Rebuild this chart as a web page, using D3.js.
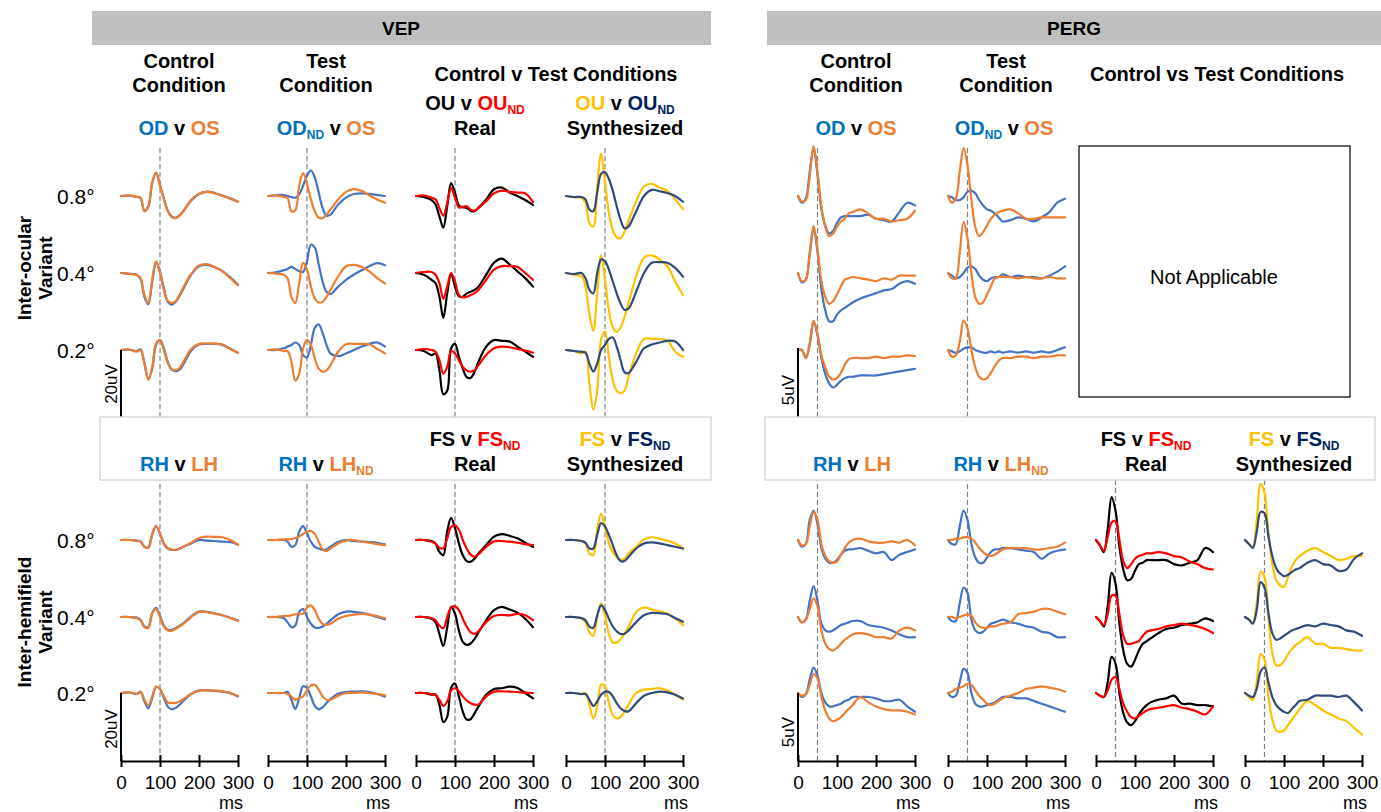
<!DOCTYPE html>
<html>
<head>
<meta charset="utf-8">
<title>VEP and PERG waveforms</title>
<script src="https://d3js.org/d3.v7.min.js"></script>
<style>
  body { margin: 0; background: #fff; }
  svg text { font-family: "Liberation Sans", Arial, sans-serif; }
</style>
</head>
<body>
<svg id="fig" width="1381" height="812"></svg>
<script>
// sample times (ms)
var tVEP  = [0,20,40,50,60,70,80,90,100,110,120,130,140,150,160,180,200,220,240,260,280,300];
var tPERG = [0,10,20,30,40,50,60,70,80,90,100,110,120,130,140,160,180,200,220,240,260,280,300];
var tickMs = [0, 100, 200, 300];
var rowLabels = ["0.8°", "0.4°", "0.2°"];

// ---- VEP, inter-ocular (uV), rows 0.8 / 0.4 / 0.2 ----
var vepOcuCtrlOD = [
  [0,0.1,-0.3,-0.6,-4.3,-3.2,3.8,6.9,3.2,-0.8,-4.3,-6,-6.4,-5.7,-4.4,-1.3,0.6,1.3,0.9,0.1,-0.7,-1.7],
  [0,-0.2,-0.5,-1.7,-7,-9.2,-2.5,3.3,0.3,-4.5,-8.5,-9.3,-8.5,-6.8,-4.6,-0.5,2,2.4,1.7,0.6,-1.3,-3.4],
  [0,0.1,-0.3,0.2,-3.8,-8.5,-5.5,1.5,3,0.5,-3.5,-5.8,-6.2,-5.8,-4.2,-0.2,1.6,1.8,1.8,1.5,0.4,-0.8]];
var vepOcuCtrlOS = [
  [0,0.2,-0.2,-0.5,-4.5,-3,4,6.8,3,-1,-4.5,-6.2,-6.5,-5.8,-4.5,-1.2,0.7,1.2,0.8,0,-0.8,-1.8],
  [0,-0.3,-0.5,-1.5,-6.5,-8.8,-2,3.4,0,-5,-8.2,-8.8,-8.3,-6.5,-4.2,-0.3,2.2,2.6,1.8,0.5,-1.5,-3.6],
  [0,0.2,-0.5,0,-4,-8.8,-5,2,2.9,0,-3.8,-5.6,-5.9,-5.3,-3.5,0.3,1.8,1.9,1.9,1.6,0.3,-0.8]];
var vepOcuTestODnd = [
  [0,0.2,0.3,0,-0.3,-0.5,0.5,3,6,7.5,5.5,1,-3.5,-5.8,-5.5,-2.5,-0.5,0.6,0.8,0.6,0.3,0],
  [0,0.2,0.8,1.2,1.8,1.2,0.5,0.3,3.5,8.3,7.5,2.5,-2.5,-5.5,-6.2,-4,-2,-0.5,0.8,2,2.9,2.3],
  [0,0,0.5,1,1.5,2.2,1.5,-1.5,-2.2,1.5,6.5,7.5,5,1.5,-1,-1.8,-1,0,1,1.8,2.2,1]];
var vepOcuTestOS = [
  [0,0.2,-0.3,-0.6,-4.5,-4.2,3,6.7,3.5,-1,-4.5,-6.4,-6.5,-5.5,-4,-1,1.2,2,1.5,0.2,-1,-2],
  [0,-0.2,-0.5,-1.5,-7,-8.8,-3,3,1,-4,-7.5,-8.7,-8.5,-7,-5,-1,2,2.4,1.8,0.5,-1.5,-3.1],
  [0,0.2,-0.3,-0.3,-3.5,-9,-7,0.5,3,1.5,-2.5,-5.5,-6.4,-6,-4.5,-0.5,1.7,1.8,1.8,1.7,0.3,-1]];
var vepOcuRealOU = [
  [0,-0.3,-1.2,-2.5,-6,-9.3,-3,3.8,1,-2.8,-3.3,-3.5,-4.3,-4.5,-3.5,-1,2,2.5,1,0,-1.2,-2.6],
  [0,-0.5,-2,-3,-7,-13.2,-6,-0.2,-4,-6.8,-7,-6,-5.5,-5,-4,-0.5,3,4.2,2.5,0.5,-1.5,-4],
  [0,-0.3,-1.5,-1,-6,-13,-12,0.5,1.8,-2,-5.5,-8,-8.2,-6.5,-3.5,1,2.9,2.7,2.5,1,-0.5,-2]];
var vepOcuRealOUnd = [
  [0,0.2,-0.5,-1,-3.5,-5.8,-2,2.3,-0.5,-3.4,-3.2,-3,-4,-4.3,-3.5,-1.5,0.8,1.6,1.2,1,0.8,-1.8],
  [0,0.3,0.3,-0.5,-3,-7.6,-4,0,-2.5,-6.5,-7.2,-7,-6.5,-6,-5,-2,1,2,2,1.8,0,-2],
  [0,0.3,0,-0.5,-3,-7,-5,-0.3,-1,-3,-5,-6,-6.4,-6,-4.5,-1.5,0.5,1,0.8,0.3,-0.2,-0.8]];
var vepOcuSynthOU = [
  [0,-0.3,-0.5,-2,-8,-9,3,12.5,4,-5,-10,-12.2,-12.4,-10.5,-7.5,-1.5,2.8,3.6,2.5,1.5,-1,-3.9],
  [0,-0.5,-1,-4,-12,-17,-6,5.2,-2,-11,-16,-17.3,-16,-13,-9,-1,4.5,5.2,4,2,-2.5,-6.5],
  [0,-0.3,-1,-0.5,-10,-17.5,-12,3,5.5,-2,-9,-12,-12.7,-12,-8,-1,3.3,3.3,3.2,2.8,-0.5,-2]];
var vepOcuSynthOUnd = [
  [0,-0.3,-0.3,-1,-4,-4.5,1,6.5,7,5,1.5,-3,-7,-9.5,-9,-4.5,0,1.8,1.4,0.9,0,-1.7],
  [0,-0.3,0,-1.5,-5,-6,0,4,3.5,1,-2.5,-6,-9,-10.8,-10.5,-5.5,0,3,3.2,3,1.5,-1.1],
  [0,-0.3,-0.5,-0.8,-4,-6.3,-4,0,1.5,3.3,3.7,1,-3,-6.5,-6.8,-3.5,0.5,1.6,2.2,2.7,2.5,0]];

// ---- VEP, inter-hemifield ----
var vepHemCtrlRH = [
  [0,0,-0.2,-0.4,-2,-2.2,1.8,4.1,1.8,-1.2,-2.5,-2.9,-2.9,-2.6,-2,-1,0,-0.2,-0.3,-0.5,-0.6,-1.3],
  [0,0,-0.2,-0.8,-2.8,-3,1.2,2.7,0.3,-2.5,-3.8,-3.8,-3.3,-2.6,-1.8,0.2,1.6,1.5,1.1,0.5,-0.2,-1],
  [0,0.2,-0.3,0.3,-2.5,-4.5,-1.5,1.8,1.2,-1.5,-4,-4.8,-4.4,-3.5,-2.3,-0.3,0.7,0.8,0.6,0.4,0,-1]];
var vepHemCtrlLH = [
  [0,0,-0.2,-0.5,-2,-2.3,1.5,4,2,-1,-2.4,-2.8,-2.9,-2.6,-2,-0.8,0.6,1,0.9,0.8,0,-1.4],
  [0,0,-0.3,-1,-3,-3.2,1,2.3,0,-2.8,-4,-4,-3.5,-2.8,-2,0,1.5,1.4,1,0.5,-0.3,-1.1],
  [0,0.2,-0.2,0.4,-2,-3.6,-1,1.9,1.2,-1,-2.8,-3,-2.9,-2.5,-1.8,-0.2,0.7,0.8,0.7,0.5,0,-0.9]];
var vepHemTestRH = [
  [0,0,0,-0.5,-2,-1.5,2.5,4.1,2,-0.5,-2,-2.5,-2.9,-2.7,-2,-0.5,0,-0.3,-0.5,-0.6,-0.8,-1.3],
  [0,0,-0.3,-1.5,-3,-2.5,1.5,2.3,0,-2,-3.1,-3.2,-2.8,-2,-1,0.8,1.6,1.5,1.2,0.7,0,-0.7],
  [0,0,0,0.3,-2,-4.7,-1.5,2,1.5,-1,-3.8,-4.8,-4.2,-3,-1.8,-0.2,0.3,0.4,0.5,0.3,-0.3,-1.1]];
var vepHemTestLHnd = [
  [0,0,0.2,0.2,0.3,0.5,1,1.8,2.4,2.7,1.8,-0.5,-2.8,-3.3,-2.5,-1,-0.2,0,-0.5,-0.8,-1.2,-1.5],
  [0,0,0.3,0.3,0.5,0.8,0.8,1,2.8,3.4,2,-0.5,-2,-2.3,-2,-0.5,0.3,0.7,0.9,0.7,0.3,-0.4],
  [0,0,0,-0.3,-1,-2,-1.5,-1,0.8,2.2,2.4,1,-1,-2,-2,-0.8,0,0,0.2,0,-0.3,-0.7]];
var vepHemRealFS = [
  [0,0,-0.3,-1,-3.5,-4.5,2.5,6.5,3.5,-1,-4.5,-6.2,-6.4,-5.5,-4,-1.5,1,1.7,1.2,0.5,-0.8,-2],
  [0,0,-0.5,-1.5,-5,-8.6,-3,3,1,-4,-7.3,-8.2,-7.8,-6.5,-4.5,-1,2,3,2.2,1.3,-0.5,-3],
  [0,0,-0.5,-0.5,-3.5,-8.5,-7,1.5,2.8,-1,-5.5,-7.8,-7.7,-6,-4,-0.5,1.2,1.4,1.9,1.5,0,-1.6]];
var vepHemRealFSnd = [
  [0,0,-0.5,-1,-2.3,-2.5,0.5,3.8,4.3,3,0,-2.5,-4.3,-4.9,-4.2,-2,-0.4,-0.3,-0.5,-0.8,-1.2,-1.5],
  [0,0,-0.3,-1,-2.5,-3.3,0,2.8,3.2,2,-0.5,-2.8,-4.5,-5,-4.2,-1.5,0.3,0.6,0.5,0.9,0.5,-0.9],
  [0,0,-0.3,-0.5,-2,-3.8,-2.5,0.8,1.4,0.5,-1,-2.2,-3,-3.4,-3.4,-1,0.4,0.5,0.4,0.3,0.1,0]];
var vepHemSynthFS = [
  [0,0,-0.3,-1,-4,-4.5,3,7.8,4,-1,-3.5,-5,-5.8,-5.5,-4,-2,0.2,0.8,0.4,-0.2,-1,-2.5],
  [0,0,-0.5,-1.5,-4.5,-5.5,0,4,0.5,-5,-7.5,-7.5,-6.5,-5,-3,1.5,2.8,2.2,1.6,1,-0.5,-2.4],
  [0,0,-0.3,0,-3.5,-7.5,-4,2.5,2,-3,-6.5,-7.5,-7,-5.5,-3.5,0,1,1.2,1.4,0.8,-0.5,-1.9]];
var vepHemSynthFSnd = [
  [0,0,-0.3,-0.8,-2.5,-2.5,1.5,5,4,1.5,-1.5,-4.5,-6.2,-6.2,-5,-2.5,-1,-0.7,-1,-1.5,-2,-2.5],
  [0,0,-0.3,-1,-2.8,-3.2,0.5,3.4,2,-0.5,-2.8,-4.2,-5,-4.9,-4,-1.5,0.5,1.2,1.1,0.8,-0.3,-1.4],
  [0,0,-0.3,-0.3,-2,-3.8,-2.5,-0.5,0.4,0.3,-1,-3,-4.5,-5.3,-5.4,-3,-0.8,0,0.4,0.2,-0.5,-1.6]];

// ---- PERG, inter-ocular ----
var pergOcuCtrlOD = [
  [0,-0.5,-0.2,1.8,3.6,1.6,-1,-2.2,-2.8,-2.6,-2,-1.6,-1.5,-1.5,-1.5,-1.5,-1.4,-1.7,-1.8,-1.9,-1.2,-0.5,-0.7],
  [0,-0.7,-0.5,1.4,3.3,1.6,-1.2,-2.8,-3.6,-3.6,-3.1,-2.8,-2.6,-2.4,-2.2,-1.9,-1.7,-1.5,-1.3,-1.2,-0.8,-0.6,-0.8],
  [0,0,-0.6,0.4,2.1,1.1,-0.6,-1.8,-2.5,-2.8,-2.6,-2.3,-2.1,-2,-2,-1.9,-1.9,-1.9,-1.8,-1.7,-1.6,-1.5,-1.4]];
var pergOcuCtrlOS = [
  [0,-0.4,-0.3,1.5,3.7,1.8,-0.8,-2.3,-3,-2.8,-2.3,-1.9,-1.7,-1.3,-1.2,-1,-1.3,-1.7,-1.7,-1.9,-1.8,-1.7,-1.1],
  [0,-0.6,-0.5,1.5,3.5,1.8,-0.6,-1.8,-2.3,-2.1,-1.6,-1,-0.5,-0.4,-0.3,-0.4,-0.5,-0.6,-0.4,-0.5,-0.2,-0.2,-0.2],
  [0,0,-0.6,0.5,2.2,1.2,-0.4,-1.3,-2,-2.2,-2.1,-1.7,-1.1,-0.7,-0.6,-0.6,-0.6,-0.5,-0.6,-0.5,-0.5,-0.4,-0.45]];
var pergOcuTestODnd = [
  [0,-0.1,-0.3,-0.3,-0.1,0.3,0.4,0.2,-0.3,-0.7,-1,-1.1,-1.3,-1.6,-1.9,-1.8,-1.6,-1.7,-1.9,-1.6,-1.2,-0.5,-0.2],
  [0,-0.2,-0.4,-0.3,0,0.4,0.5,0.3,-0.2,-0.5,-0.6,-0.4,-0.3,-0.3,-0.1,-0.3,-0.2,-0.3,-0.3,-0.4,-0.2,0.1,0.5],
  [0,-0.1,-0.2,-0.1,0.1,0.2,0.2,0,-0.1,-0.2,-0.2,-0.1,-0.2,-0.1,-0.2,-0.1,-0.2,-0.1,-0.2,-0.1,-0.2,0,0.2]];
var pergOcuTestOS = [
  [0,-0.5,-0.2,1.8,3.6,2.3,-0.3,-2.3,-3,-2.7,-2.2,-1.7,-1.4,-1.2,-1.1,-1,-1.3,-1.7,-1.7,-1.6,-1.6,-1.6,-1.6],
  [0,-0.4,-0.4,1.5,3.8,2.6,0,-1.8,-2.3,-2.2,-1.6,-1,-0.4,-0.3,-0.3,-0.3,-0.4,-0.3,-0.4,-0.4,-0.3,-0.4,-0.4],
  [0,-0.5,-0.4,0.6,2.2,1.6,0,-1.3,-2,-2.2,-2.1,-1.7,-1.2,-0.8,-0.6,-0.6,-0.5,-0.5,-0.6,-0.5,-0.5,-0.4,-0.4]];

// ---- PERG, inter-hemifield ----
var pergHemCtrlRH = [
  [0,-0.5,-0.3,1.5,2.2,1.2,-0.6,-1.4,-1.7,-1.7,-1.5,-1.1,-0.8,-0.7,-0.7,-0.6,-0.8,-1,-0.9,-1.5,-1.1,-0.9,-0.7],
  [0,-0.4,-0.2,1.2,2.3,1.2,-0.5,-1,-1.1,-1,-0.8,-0.6,-0.5,-0.4,-0.3,-0.3,-0.6,-0.7,-0.8,-1,-1.3,-1.5,-1.5],
  [0,-0.3,-0.1,1,1.9,1.3,0,-0.7,-1,-1,-0.9,-0.8,-0.6,-0.5,-0.3,-0.3,-0.3,-0.4,-0.6,-0.6,-0.5,-1,-1.4]];
var pergHemCtrlLH = [
  [0,-0.4,-0.3,1,2.1,1.5,-0.3,-1.2,-1.6,-1.7,-1.6,-1.1,-0.6,-0.2,0,0.1,-0.1,-0.2,-0.2,-0.1,-0.2,0,-0.4],
  [0,-0.4,-0.2,0.6,1.4,0.8,-1,-2,-2.4,-2.5,-2.3,-2,-1.7,-1.5,-1.3,-1.2,-1.3,-1.5,-1.5,-1.6,-1,-0.8,-1],
  [0,-0.2,-0.1,0.6,1.4,1.1,-0.3,-1.3,-1.9,-2.1,-2,-1.8,-1.5,-1.2,-0.9,-0.3,-0.7,-1,-1.2,-1.3,-1.3,-1.4,-1.6]];
var pergHemTestRH = [
  [0,-0.3,-0.3,1,2.2,1.5,-0.3,-1.3,-1.7,-1.7,-1.3,-0.9,-0.7,-0.7,-0.6,-0.6,-0.7,-0.8,-0.9,-1.4,-1,-0.8,-0.7],
  [0,-0.3,-0.3,1,2.2,1.8,-0.2,-1,-1.2,-1.1,-0.8,-0.5,-0.4,-0.3,-0.2,-0.4,-0.5,-0.7,-0.8,-1.1,-1.2,-1.5,-1.5],
  [0,-0.3,-0.2,0.8,1.8,1.5,0,-0.8,-1,-1,-0.9,-0.8,-0.7,-0.5,-0.3,-0.3,-0.4,-0.4,-0.6,-0.8,-1,-1.2,-1.4]];
var pergHemTestLHnd = [
  [0,0,0.1,0.1,0.2,0.2,0.1,-0.2,-0.6,-0.9,-1.1,-1.2,-1.1,-0.9,-0.7,-0.6,-0.6,-0.6,-0.7,-0.7,-0.6,-0.5,-0.2],
  [0,0,-0.1,0,0.1,0.2,0.1,-0.4,-0.7,-0.8,-0.8,-0.7,-0.7,-0.6,-0.5,-0.4,0.2,0.3,0.4,0.6,0.6,0.4,0.2],
  [0,0.1,0.3,0.4,0.5,0.7,0.6,0.2,-0.2,-0.5,-0.8,-0.9,-0.8,-0.6,-0.4,-0.2,0,0.3,0.4,0.5,0.4,0.3,0.1]];
var pergHemRealFS = [
  [0,-0.4,-0.9,0.8,3.2,2.2,-0.5,-2.2,-3,-2.9,-2.3,-1.8,-1.7,-1.5,-1.5,-1.5,-1.5,-1.8,-1.9,-1.7,-1.5,-0.6,-0.9],
  [0,-0.3,-0.7,0.8,3.3,2.5,-0.5,-2.5,-3.5,-3.7,-3.2,-2.5,-2,-1.8,-1.6,-1.2,-0.9,-0.8,-0.6,-0.5,-0.4,-0.1,-0.3],
  [0,-0.2,-0.3,0.8,2.7,2.2,0,-1.5,-2.2,-2.4,-2.1,-1.6,-1.2,-0.9,-0.7,-0.5,-0.4,-0.2,-0.8,-0.8,-0.9,-0.9,-1]];
var pergHemRealFSnd = [
  [0,-0.4,-0.8,0.2,1.3,1.4,0,-1.6,-2.1,-1.8,-1.4,-1.2,-1.1,-1,-1,-0.9,-1,-1.2,-1.3,-1.6,-1.8,-2.1,-2.2],
  [0,-0.3,-0.6,0.2,1.6,1.6,0.2,-1.4,-2,-2,-1.9,-1.8,-1.4,-1.1,-1,-0.9,-0.7,-0.6,-0.5,-0.6,-0.7,-0.9,-1.2],
  [0,-0.2,-0.3,0.2,1,1.2,0.3,-0.8,-1.4,-1.8,-1.9,-1.7,-1.5,-1.3,-1.2,-1.1,-1,-0.9,-1.1,-1.2,-1.4,-1.6,-1]];
var pergHemSynthFS = [
  [0,-0.3,-0.5,1.5,4.2,3.5,0.5,-1.8,-3,-3.4,-3.5,-2.8,-2,-1.5,-1.2,-0.8,-0.6,-0.9,-1.2,-1.5,-1.4,-1.2,-1.2],
  [0,-0.2,-0.4,1,3.4,3,0,-2.7,-3.6,-3.6,-3.3,-2.8,-2.4,-2.1,-1.9,-1.5,-2,-2,-2.3,-2.3,-2.4,-2.5,-2.5],
  [0,-0.3,-0.5,0.8,2.9,2.5,-0.2,-2,-2.8,-2.9,-2.8,-2.4,-2,-1.6,-1.2,-0.6,-0.9,-1.3,-1.6,-1.9,-2.1,-2.6,-3.1]];
var pergHemSynthFSnd = [
  [0,-0.3,-0.6,0.6,2.1,2,0.3,-1.2,-2.1,-2.5,-2.7,-2.6,-2.4,-2.2,-2.1,-1.7,-1.5,-1.8,-1.9,-2.3,-2.2,-1.4,-1],
  [0,-0.2,-0.5,0.5,2.6,2.2,0.3,-1.2,-1.7,-1.6,-1.4,-1.2,-1,-0.9,-0.8,-0.6,-0.7,-0.5,-0.6,-0.7,-1,-1.1,-1.4],
  [0,-0.2,-0.3,0.3,1.6,1.9,0.8,-0.3,-0.9,-1.2,-1.4,-1.5,-1.2,-0.9,-0.6,-0.5,-0.2,-0.2,-0.2,-0.3,-0.2,-0.7,-1.3]];

// colours
var cBlue = "#4472C4", cOrange = "#ED7D31", cBlack = "#000000", cRed = "#FF0000",
    cYellow = "#FFC000", cNavy = "#2F4B7C";
var tBlue = "#0070C0", tNavy = "#002060";

// layout
var vepCols = [121, 268, 416, 566];
var pergCols = [798, 948, 1096, 1245];
var colW = 117;
var rowsTop = [196, 273, 350];
var rowsBot = [540, 617, 693];
var axisY = 761;

var svg = d3.select("#fig");

// panel list
var panels = [
  {x0: vepCols[0], rows: rowsTop, kind: "vep", s: [[vepOcuCtrlOD, cBlue], [vepOcuCtrlOS, cOrange]]},
  {x0: vepCols[1], rows: rowsTop, kind: "vep", s: [[vepOcuTestODnd, cBlue], [vepOcuTestOS, cOrange]]},
  {x0: vepCols[2], rows: rowsTop, kind: "vep", s: [[vepOcuRealOU, cBlack], [vepOcuRealOUnd, cRed]]},
  {x0: vepCols[3], rows: rowsTop, kind: "vep", s: [[vepOcuSynthOU, cYellow], [vepOcuSynthOUnd, cNavy]]},
  {x0: vepCols[0], rows: rowsBot, kind: "vep", s: [[vepHemCtrlRH, cBlue], [vepHemCtrlLH, cOrange]]},
  {x0: vepCols[1], rows: rowsBot, kind: "vep", s: [[vepHemTestRH, cBlue], [vepHemTestLHnd, cOrange]]},
  {x0: vepCols[2], rows: rowsBot, kind: "vep", s: [[vepHemRealFS, cBlack], [vepHemRealFSnd, cRed]]},
  {x0: vepCols[3], rows: rowsBot, kind: "vep", s: [[vepHemSynthFS, cYellow], [vepHemSynthFSnd, cNavy]]},
  {x0: pergCols[0], rows: rowsTop, kind: "perg", s: [[pergOcuCtrlOD, cBlue], [pergOcuCtrlOS, cOrange]]},
  {x0: pergCols[1], rows: rowsTop, kind: "perg", s: [[pergOcuTestODnd, cBlue], [pergOcuTestOS, cOrange]]},
  {x0: pergCols[0], rows: rowsBot, kind: "perg", s: [[pergHemCtrlRH, cBlue], [pergHemCtrlLH, cOrange]]},
  {x0: pergCols[1], rows: rowsBot, kind: "perg", s: [[pergHemTestRH, cBlue], [pergHemTestLHnd, cOrange]]},
  {x0: pergCols[2], rows: rowsBot, kind: "perg", s: [[pergHemRealFS, cBlack], [pergHemRealFSnd, cRed]]},
  {x0: pergCols[3], rows: rowsBot, kind: "perg", s: [[pergHemSynthFS, cYellow], [pergHemSynthFSnd, cNavy]]}
];

// top grey bars
svg.append("rect").attr("x", 92).attr("y", 11).attr("width", 619).attr("height", 34).attr("fill", "#BFBFBF");
svg.append("rect").attr("x", 767).attr("y", 11).attr("width", 614).attr("height", 34).attr("fill", "#BFBFBF");
svg.append("text").attr("x", 401).attr("y", 35).attr("text-anchor", "middle")
  .style("font-weight", "bold").style("font-size", "19px").text("VEP");
svg.append("text").attr("x", 1074).attr("y", 35).attr("text-anchor", "middle")
  .style("font-weight", "bold").style("font-size", "19px").text("PERG");

function xScale(x0) {
  return d3.scaleLinear().domain([0, 300]).range([x0, x0 + colW]);
}

// dashed latency markers
function dash(x, y1, y2) {
  svg.append("line").attr("x1", x).attr("x2", x).attr("y1", y1).attr("y2", y2)
    .attr("stroke", "#808080").attr("stroke-width", 1.2).attr("stroke-dasharray", "5,3");
}
vepCols.forEach(function(c) { dash(xScale(c)(100), 148, axisY); });
dash(xScale(pergCols[0])(50), 148, axisY);
dash(xScale(pergCols[1])(50), 148, axisY);
dash(xScale(pergCols[2])(50), 480, axisY);
dash(xScale(pergCols[3])(50), 480, axisY);

// traces
panels.forEach(function(p) {
  var x = xScale(p.x0);
  var t = p.kind == "vep" ? tVEP : tPERG;
  p.rows.forEach(function(base, r) {
    var y = p.kind == "vep"
      ? d3.scaleLinear().domain([0, 20]).range([base, base - 68])
      : d3.scaleLinear().domain([0, 5]).range([base, base - 67]);
    var line = d3.line()
      .x(function(d, i) { return x(t[i]); })
      .y(function(d) { return y(d); })
      .curve(d3.curveCatmullRom.alpha(0.5));
    p.s.forEach(function(ser) {
      svg.append("path").datum(ser[0][r]).attr("d", line)
        .attr("fill", "none").attr("stroke", ser[1]).attr("stroke-width", 2.2)
        .attr("stroke-linejoin", "round").attr("stroke-linecap", "round");
    });
  });
});

// scale bars
function scaleBar(x, y1, y2, label, ly) {
  svg.append("line").attr("x1", x).attr("x2", x).attr("y1", y1).attr("y2", y2)
    .attr("stroke", "#000").attr("stroke-width", 2);
  svg.append("text").attr("transform", "translate(" + (x - 4) + "," + ly + ") rotate(-90)")
    .attr("text-anchor", "middle").style("font-size", "17px").text(label);
}
scaleBar(121, 350, 418, "20uV", 384);
scaleBar(121, 693, axisY, "20uV", 729);
scaleBar(798, 348, 418, "5uV", 390);
scaleBar(798, 693, axisY, "5uV", 732);

// light boxes for the inter-hemifield headers
svg.append("rect").attr("x", 100).attr("y", 417).attr("width", 611).attr("height", 63)
  .attr("fill", "#fff").attr("stroke", "#D9D9D9").attr("stroke-width", 1.5);
svg.append("rect").attr("x", 765).attr("y", 417).attr("width", 610).attr("height", 63)
  .attr("fill", "#fff").attr("stroke", "#D9D9D9").attr("stroke-width", 1.5);

// not applicable box
svg.append("rect").attr("x", 1079).attr("y", 146).attr("width", 271).attr("height", 251)
  .attr("fill", "none").attr("stroke", "#000").attr("stroke-width", 1.2);
svg.append("text").attr("x", 1214).attr("y", 284).attr("text-anchor", "middle")
  .style("font-size", "20px").text("Not Applicable");

// axes
vepCols.concat(pergCols).forEach(function(c) {
  var x = xScale(c);
  var ax = d3.axisBottom(x).tickValues(tickMs).tickSizeOuter(0).tickSizeInner(6);
  var g = svg.append("g").attr("transform", "translate(0," + axisY + ")").call(ax);
  g.select(".domain").attr("stroke-width", 2);
  g.selectAll(".tick line").attr("y1", -6).attr("y2", 6).attr("stroke-width", 2);
  g.selectAll(".tick text").attr("y", 15).style("font-size", "19px")
    .style("font-family", "'Liberation Sans', Arial, sans-serif").attr("fill", "#000");
  svg.append("text").attr("x", c + 110).attr("y", 809).attr("text-anchor", "middle")
    .style("font-size", "18px").text("ms");
});

// rich text labels with subscript
function rich(x, y, parts, size) {
  var t = svg.append("text").attr("x", x).attr("y", y).attr("text-anchor", "middle")
    .style("font-weight", "bold").style("font-size", (size || 20) + "px");
  var shifted = false;
  parts.forEach(function(p) {
    var s = t.append("tspan").attr("fill", p[1]).text(p[0]);
    if (shifted) { s.attr("dy", -4); shifted = false; }
    if (p[2]) {
      t.append("tspan").attr("fill", p[1]).attr("dy", 4).style("font-size", "12px").text(p[2]);
      shifted = true;
    }
  });
}
function bold(x, y, txt) { rich(x, y, [[txt, "#000"]]); }

// VEP headers
bold(179, 68, "Control"); bold(179, 92, "Condition");
bold(326, 68, "Test"); bold(326, 92, "Condition");
bold(556, 81, "Control v Test Conditions");
rich(475, 110, [["OU", cBlack], [" v ", cBlack], ["OU", cRed, "ND"]]);
bold(475, 135, "Real");
rich(625, 110, [["OU", cYellow], [" v ", cBlack], ["OU", tNavy, "ND"]]);
bold(625, 135, "Synthesized");
rich(179, 135, [["OD", tBlue], [" v ", cBlack], ["OS", cOrange]]);
rich(326, 135, [["OD", tBlue, "ND"], [" v ", cBlack], ["OS", cOrange]]);

// VEP inter-hemifield header box
rich(179, 471, [["RH", tBlue], [" v ", cBlack], ["LH", cOrange]]);
rich(326, 471, [["RH", tBlue], [" v ", cBlack], ["LH", cOrange, "ND"]]);
rich(475, 446, [["FS", cBlack], [" v ", cBlack], ["FS", cRed, "ND"]]);
bold(475, 471, "Real");
rich(625, 446, [["FS", cYellow], [" v ", cBlack], ["FS", tNavy, "ND"]]);
bold(625, 471, "Synthesized");

// PERG headers
bold(856, 68, "Control"); bold(856, 92, "Condition");
bold(1006, 68, "Test"); bold(1006, 92, "Condition");
bold(1217, 81, "Control vs Test Conditions");
rich(856, 135, [["OD", tBlue], [" v ", cBlack], ["OS", cOrange]]);
rich(1004, 135, [["OD", tBlue, "ND"], [" v ", cBlack], ["OS", cOrange]]);

rich(852, 471, [["RH", tBlue], [" v ", cBlack], ["LH", cOrange]]);
rich(1001, 471, [["RH", tBlue], [" v ", cBlack], ["LH", cOrange, "ND"]]);
rich(1146, 446, [["FS", cBlack], [" v ", cBlack], ["FS", cRed, "ND"]]);
bold(1146, 471, "Real");
rich(1294, 446, [["FS", cYellow], [" v ", cBlack], ["FS", tNavy, "ND"]]);
bold(1294, 471, "Synthesized");

// row labels
rowsTop.concat(rowsBot).forEach(function(b, i) {
  svg.append("text").attr("x", 57).attr("y", b + 8).style("font-size", "21px").text(rowLabels[i % 3]);
});

// side labels
function side(y, l1, l2) {
  svg.append("text").attr("transform", "translate(31," + y + ") rotate(-90)")
    .attr("text-anchor", "middle").style("font-weight", "bold").style("font-size", "19px").text(l1);
  svg.append("text").attr("transform", "translate(52," + y + ") rotate(-90)")
    .attr("text-anchor", "middle").style("font-weight", "bold").style("font-size", "19px").text(l2);
}
side(268, "Inter-ocular", "Variant");
side(622, "Inter-hemifield", "Variant");
</script>
</body>
</html>
